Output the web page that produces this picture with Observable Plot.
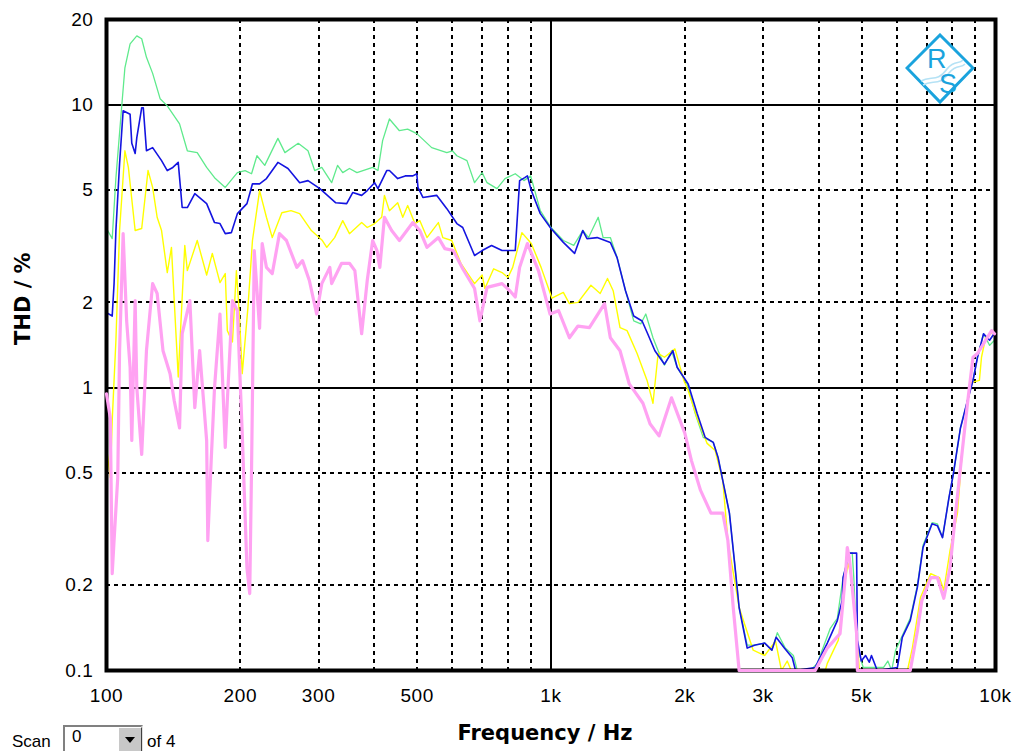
<!DOCTYPE html>
<html><head><meta charset="utf-8">
<script src="https://cdn.jsdelivr.net/npm/d3@7"></script>
<script src="https://cdn.jsdelivr.net/npm/@observablehq/plot@0.6"></script>
<style>
body{margin:0;background:#fff;}
#wrap{position:relative;width:1023px;height:751px;overflow:hidden;background:#fff;}
#wrap svg [aria-label$="tick label"] text{letter-spacing:0.6px;}
.ui{position:absolute;font-family:"Liberation Sans",Arial,sans-serif;font-size:17px;color:#000;line-height:17px;}
#box{position:absolute;left:63px;top:725px;width:76px;height:30px;border-top:2px solid #808080;border-left:2px solid #808080;border-right:2px solid #e0e0e0;background:#fff;}
#btn{position:absolute;left:118px;top:727px;width:22px;height:28px;background:#c8c8c8;border-top:1px solid #fff;border-left:1px solid #fff;border-right:1px solid #404040;}
#btn:after{content:"";position:absolute;left:6px;top:9px;border-left:5px solid transparent;border-right:5px solid transparent;border-top:6px solid #000;}
#logo{position:absolute;left:905px;top:33px;}
</style></head>
<body><div id="wrap"></div>
<script>
// ---- data (frequency in Hz, THD in %) ----
const greenFreq = [100,103,105,108,110,113,117,120,123,127,132,137,146,152,160,168,175,185,197,205,212,218,227,243,252,270,284,294,305,321,331,340,352,366,397,408,418,433,456,476,499,539,583,600,614,647,673,700,718,756,788,831,869,900,946,1000,1066,1125,1179,1215,1277,1310,1360,1409,1471,1535,1592,1634,1696,1742,1800,1867,1922,2024,2111,2200,2318,2376,2435,2520,2585,2650,2763,2880,3025,3140,3230,3366,3510,3581,3830,3973,4250,4407,4540,4690,4760,4800,4870,5040,5600,5725,5840,5960,6430,6673,6870,7200,7400,7600,7860,8040,8340,8650,8900,9110,9400,9700,9950];
const greenThd = [3.65,3.36,5.52,9.52,13.5,16.4,17.5,17.1,14.7,12.9,10.5,9.9,8.55,6.87,6.77,6.0,5.52,5.1,5.75,5.85,5.7,6.6,6.1,7.6,6.77,7.3,6.87,5.85,6.0,5.3,6.1,5.75,5.95,5.75,6.0,5.85,7.46,8.9,8.09,8.2,7.9,7.05,6.77,6.87,6.6,6.34,5.3,5.75,5.3,5.05,5.48,5.7,5.39,5.6,4.22,3.68,3.31,3.18,3.59,3.39,4.0,3.39,3.39,2.88,2.2,1.72,1.68,1.82,1.5,1.35,1.2,1.35,1.18,1.03,0.81,0.667,0.64,0.566,0.469,0.36,0.245,0.167,0.123,0.123,0.125,0.118,0.136,0.12,0.113,0.1,0.1,0.106,0.141,0.153,0.213,0.26,0.261,0.213,0.123,0.1025,0.1025,0.108,0.1,0.118,0.153,0.2,0.277,0.333,0.33,0.295,0.409,0.496,0.72,0.9,1.06,1.28,1.55,1.41,1.47];

const blueFreq = [100,103,104,105,107,109,113,114,116,117,120,121,123,127,133,137,141,145,148,152,158,168,175,180,185,191,197,207,213,221,229,243,256,272,284,302,328,347,358,375,386,401,408,427,433,452,470,489,499,502,515,553,583,614,633,673,700,735,776,831,850,873,885,903,946,1000,1066,1130,1179,1205,1270,1360,1408,1471,1535,1603,1650,1713,1800,1880,1922,2035,2132,2222,2318,2376,2435,2520,2585,2650,2763,2880,3025,3140,3210,3350,3490,3550,3930,4184,4407,4520,4540,4690,4870,4890,4990,5100,5200,5260,5420,6016,6170,6430,6673,6870,7200,7400,7600,7860,8040,8340,8650,8900,9110,9400,9700,9950];
const blueThd = [1.84,1.79,2.33,3.59,6.18,9.52,9.25,7.3,6.72,7.65,9.75,9.75,6.87,7.05,6.34,5.85,6.0,6.25,4.33,4.33,4.85,4.47,3.83,3.8,3.5,3.53,4.12,4.47,5.25,5.25,5.48,6.25,5.95,5.3,5.39,5.05,4.5,4.47,4.89,4.78,4.97,5.3,5.05,5.85,5.85,5.48,5.6,5.6,5.7,5.1,4.7,4.78,4.29,3.8,3.68,2.93,3.05,3.18,3.05,3.05,5.39,5.52,5.6,4.97,4.12,3.65,3.26,2.98,3.59,3.36,3.39,3.26,2.88,2.2,1.79,1.72,1.55,1.35,1.21,1.35,1.18,1.03,0.81,0.667,0.64,0.566,0.469,0.36,0.245,0.167,0.12,0.123,0.125,0.118,0.131,0.12,0.111,0.1,0.1025,0.125,0.15,0.177,0.213,0.26,0.26,0.128,0.108,0.113,0.107,0.113,0.1,0.1025,0.131,0.15,0.197,0.272,0.33,0.325,0.295,0.409,0.496,0.72,0.9,1.06,1.28,1.55,1.47,1.56];

const yellowFreq = [100,102,103,105,107,110,112,116,120,124,127,130,133,137,140,145,150,152,160,168,173,180,185,187,192,196,199,202,208,213,221,229,236,248,260,272,289,306,313,326,340,352,375,386,401,416,422,433,452,464,476,494,507,526,558,571,598,627,673,700,710,743,776,800,820,860,903,950,1005,1066,1100,1150,1230,1290,1340,1380,1430,1483,1562,1645,1696,1742,1800,1900,1990,2035,2132,2245,2340,2435,2500,2650,2850,3025,3200,3300,3400,3470,4140,4184,4430,4600,4660,4740,4870,4940,6336,6500,6780,7150,7480,7650,7900,8210,8480,8780,9200,9300,9500,9950];
const yellowThd = [0.615,0.48,0.764,1.47,3.59,6.87,6.0,3.59,3.65,5.85,5.1,4.0,3.59,2.55,3.13,1.09,3.18,2.59,3.31,2.5,2.98,2.35,2.53,1.59,1.45,2.59,1.82,1.12,1.91,3.31,4.97,4.0,3.39,4.15,4.22,4.12,3.59,3.31,3.13,3.39,3.89,3.5,3.83,3.68,3.8,4.0,4.78,4.22,4.5,4.0,4.4,3.8,3.89,3.39,3.83,3.39,3.31,2.75,2.33,2.5,2.24,2.63,2.55,2.45,2.66,3.53,3.23,2.66,2.07,2.17,1.98,2.0,2.3,2.15,2.43,2.2,1.63,1.59,1.32,1.06,0.88,1.32,1.28,1.37,1.06,0.976,0.78,0.635,0.599,0.469,0.288,0.167,0.118,0.113,0.127,0.1,0.108,0.1,0.1,0.106,0.128,0.213,0.239,0.213,0.135,0.1,0.1,0.12,0.181,0.22,0.213,0.192,0.265,0.36,0.69,1.04,1.06,1.28,1.5,1.59];

const pinkFreq = [100,102,103,104,106,107,109,111,113,114,116,117,120,123,127,130,134,139,142,146,148,154,158,162,168,169,172,175,180,185,187,192,197,202,207,210,212,215,221,224,229,236,245,254,268,276,286,297,305,318,321,338,352,362,375,386,397,406,412,422,438,456,489,507,526,558,577,603,633,673,692,718,776,808,831,850,885,937,995,1040,1100,1150,1220,1320,1360,1430,1500,1610,1670,1750,1867,2000,2070,2170,2290,2435,2500,2570,2650,3930,4184,4470,4600,4640,4690,4760,4870,4890,6430,6673,6830,7150,7400,7650,7900,8100,8420,8650,8900,9110,9400,9800,9950];
const pinkThd = [0.95,0.78,0.22,0.288,0.48,1.35,3.5,1.72,1.18,0.65,2.03,1.0,0.58,1.35,2.33,2.15,1.35,1.12,0.9,0.72,1.55,2.03,0.85,1.35,0.65,0.288,0.552,1.0,1.82,0.615,0.9,2.03,1.87,0.69,0.23,0.187,0.52,3.05,1.62,3.23,2.66,2.53,3.5,3.31,2.66,2.81,2.39,1.82,2.33,2.66,2.33,2.75,2.75,2.59,1.55,2.39,3.31,3.05,2.66,4.0,3.59,3.31,3.83,3.59,3.13,3.39,3.1,3.05,2.63,2.24,1.72,2.26,2.33,2.2,2.09,2.66,3.23,2.59,1.82,1.87,1.5,1.65,1.63,1.98,1.5,1.35,1.03,0.88,0.745,0.675,0.92,0.69,0.552,0.433,0.36,0.36,0.288,0.167,0.1,0.1,0.12,0.135,0.22,0.272,0.25,0.197,0.135,0.1,0.1,0.138,0.177,0.213,0.213,0.18,0.23,0.339,0.599,0.88,1.28,1.32,1.43,1.59,1.55];

// ---- axes / grid ----
const xTickValues = [100,200,300,500,700,1000,2000,3000,5000,7000,10000];
const xTickLabels = ["100","200","300","500","700","1k","2k","3k","5k","7k","10k"];
const yTickValues = [0.1,0.2,0.5,1,2,5,10,20];
const yTickLabels = ["0.1","0.2","0.5","1","2","5","10","20"];
const xGridDashed = [200,300,400,500,600,700,800,900,2000,3000,4000,5000,6000,7000,8000,9000];
const xGridSolid = [1000];
const yGridDashed = [0.2,0.5,2,5];
const yGridSolid = [1,10];
const xTitle = "Frequency / Hz";
const yTitle = "THD / %";

const zip = (f, v) => f.map((d, i) => ({f: d, v: v[i]}));
const xLab = new Map(xTickValues.map((d, i) => [d, xTickLabels[i]]));
const yLab = new Map(yTickValues.map((d, i) => [d, yTickLabels[i]]));

const chart = Plot.plot({
  width: 1023, height: 751,
  marginLeft: 106, marginRight: 28, marginTop: 19, marginBottom: 81,
  style: {fontFamily: '"Liberation Sans", Arial, sans-serif', fontSize: "19px", background: "#fff", color: "#000", overflow: "visible"},
  x: {type: "log", domain: [100, 10000]},
  y: {type: "log", domain: [0.1, 20]},
  marks: [
    Plot.ruleX(xGridDashed, {stroke: "#000", strokeWidth: 2, strokeDasharray: "4,4", shapeRendering: "crispEdges"}),
    Plot.ruleY(yGridDashed, {stroke: "#000", strokeWidth: 2, strokeDasharray: "4,4", shapeRendering: "crispEdges"}),
    Plot.ruleX(xGridSolid, {stroke: "#000", strokeWidth: 2, shapeRendering: "crispEdges"}),
    Plot.ruleY(yGridSolid, {stroke: "#000", strokeWidth: 2, shapeRendering: "crispEdges"}),
    Plot.line(zip(greenFreq, greenThd), {x: "f", y: "v", stroke: "#5fea8c", strokeWidth: 1.3}),
    Plot.line(zip(yellowFreq, yellowThd), {x: "f", y: "v", stroke: "#ffff00", strokeWidth: 1.4}),
    Plot.line(zip(blueFreq, blueThd), {x: "f", y: "v", stroke: "#1414e0", strokeWidth: 1.6}),
    Plot.frame({stroke: "#000", strokeWidth: 4}),
    Plot.line(zip(pinkFreq, pinkThd), {x: "f", y: "v", stroke: "#ffa2f2", strokeWidth: 3.2}),
    Plot.axisX({ticks: xTickValues, tickFormat: d => xLab.get(d), tickSize: 0, tickPadding: 18, label: null}),
    Plot.axisY({ticks: yTickValues, tickFormat: d => yLab.get(d), tickSize: 0, tickPadding: 13, label: null}),
    Plot.text([xTitle], {text: d => d, frameAnchor: "bottom", dx: -6, dy: 69, fontFamily: '"DejaVu Sans", Verdana, sans-serif', fontWeight: "bold", fontSize: 21, fill: "#000"}),
    Plot.text([yTitle], {text: d => d, frameAnchor: "left", dx: -83, rotate: -90, fontFamily: '"DejaVu Sans", Verdana, sans-serif', fontWeight: "bold", fontSize: 21, fill: "#000"})
  ]
});
const wrap = document.getElementById("wrap");
wrap.appendChild(chart);

// Scan control and logo (decorations outside the data)
wrap.insertAdjacentHTML("beforeend", `
<div class="ui" style="left:12px;top:733px;">Scan</div>
<div id="box"></div>
<div class="ui" style="left:72px;top:728px;">0</div>
<div id="btn"></div>
<div class="ui" style="left:147px;top:733px;">of 4</div>
<svg id="logo" width="70" height="72" viewBox="0 0 70 72">
  <polygon points="35,2 68,35 35,69 2,35" fill="#fff" stroke="#1aa3dd" stroke-width="3"/>
  <path d="M16,48 C26,42 32,50 42,36 C50,26 54,32 58,27" fill="none" stroke="#b5e2f5" stroke-width="1.6"/>
  <path d="M18,52 C28,46 34,54 44,40 C52,30 56,36 60,31" fill="none" stroke="#b5e2f5" stroke-width="1.6"/>
  <text x="22" y="35" font-family="Liberation Sans, Arial" font-size="27" fill="#1aa3dd">R</text>
  <text x="34" y="60" font-family="Liberation Sans, Arial" font-size="27" fill="#1aa3dd">S</text>
</svg>`);
</script>
</body></html>
